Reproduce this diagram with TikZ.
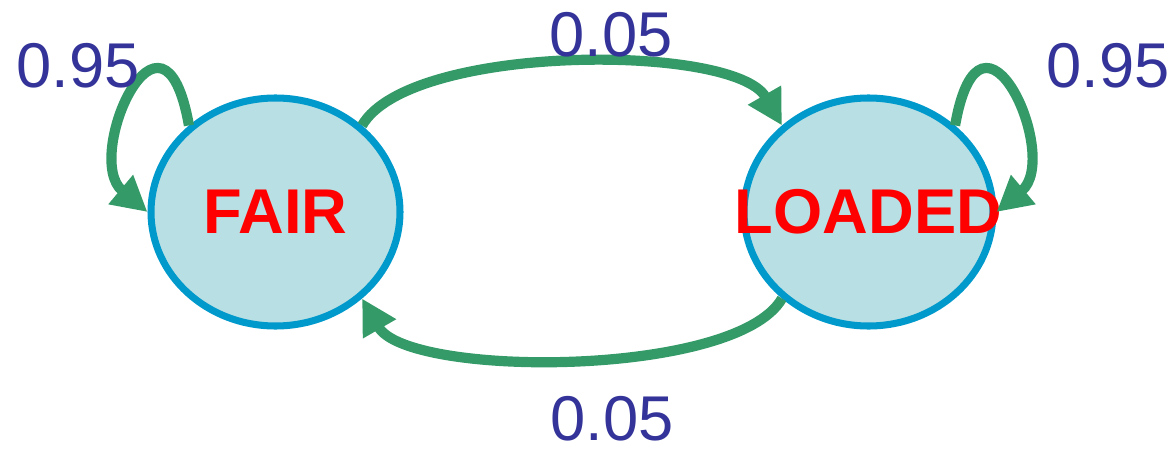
\documentclass[tikz,border=0pt]{standalone}
\usepackage{fontspec}
\setmainfont{Liberation Sans}
\usetikzlibrary{shapes.geometric,arrows.meta,positioning}
\definecolor{statefill}{RGB}{184,224,228}
\definecolor{stateline}{RGB}{0,153,204}
\definecolor{edgegreen}{RGB}{52,154,104}
\definecolor{probblue}{RGB}{51,51,153}

\begin{document}
\begin{tikzpicture}[node distance={59.3mm},
    state/.style={ellipse, draw=stateline, fill=statefill, line width=2pt,
      minimum width=2.49cm, minimum height=2.28cm, inner sep=0pt},
    statename/.style={text=red, font=\fontsize{18}{20}\selectfont\bfseries, inner sep=0pt},
    trans/.style={draw=edgegreen, line width=2.9pt, -{Triangle[length=3.5mm,width=3.6mm]}},
    prob/.style={text=probblue, font=\fontsize{18}{20}\selectfont, inner sep=0pt}]
    \useasboundingbox (0,0) rectangle (11.73,4.5);
    \node[state, label={[statename]center:FAIR}] (fair) at (2.755,2.38) {};
    \node[state, label={[statename]center:LOADED}] (loaded) [right of=fair] {};
    % self loops
    \draw[trans] (fair.135) .. controls +(100:1.5) and +(140:0.85) .. (fair.180);
    \draw[trans] (loaded.45) .. controls +(80:1.5) and +(40:0.85) .. (loaded.0);
    % switching between the dice
    \draw[trans] (fair.45) to[out=60, in=120, looseness=0.58] (loaded.135);
    \draw[trans] (loaded.225) to[out=-120, in=-60, looseness=0.56] (fair.315);
    \node[prob] (pff) at (0.78,3.84) {0.95};
    \node[prob] (pll) at (11.08,3.84) {0.95};
    \node[prob] (pfl) at (6.11,4.15) {0.05};
    \node[prob] (plf) at (6.12,0.31) {0.05};
\end{tikzpicture}
\end{document}
